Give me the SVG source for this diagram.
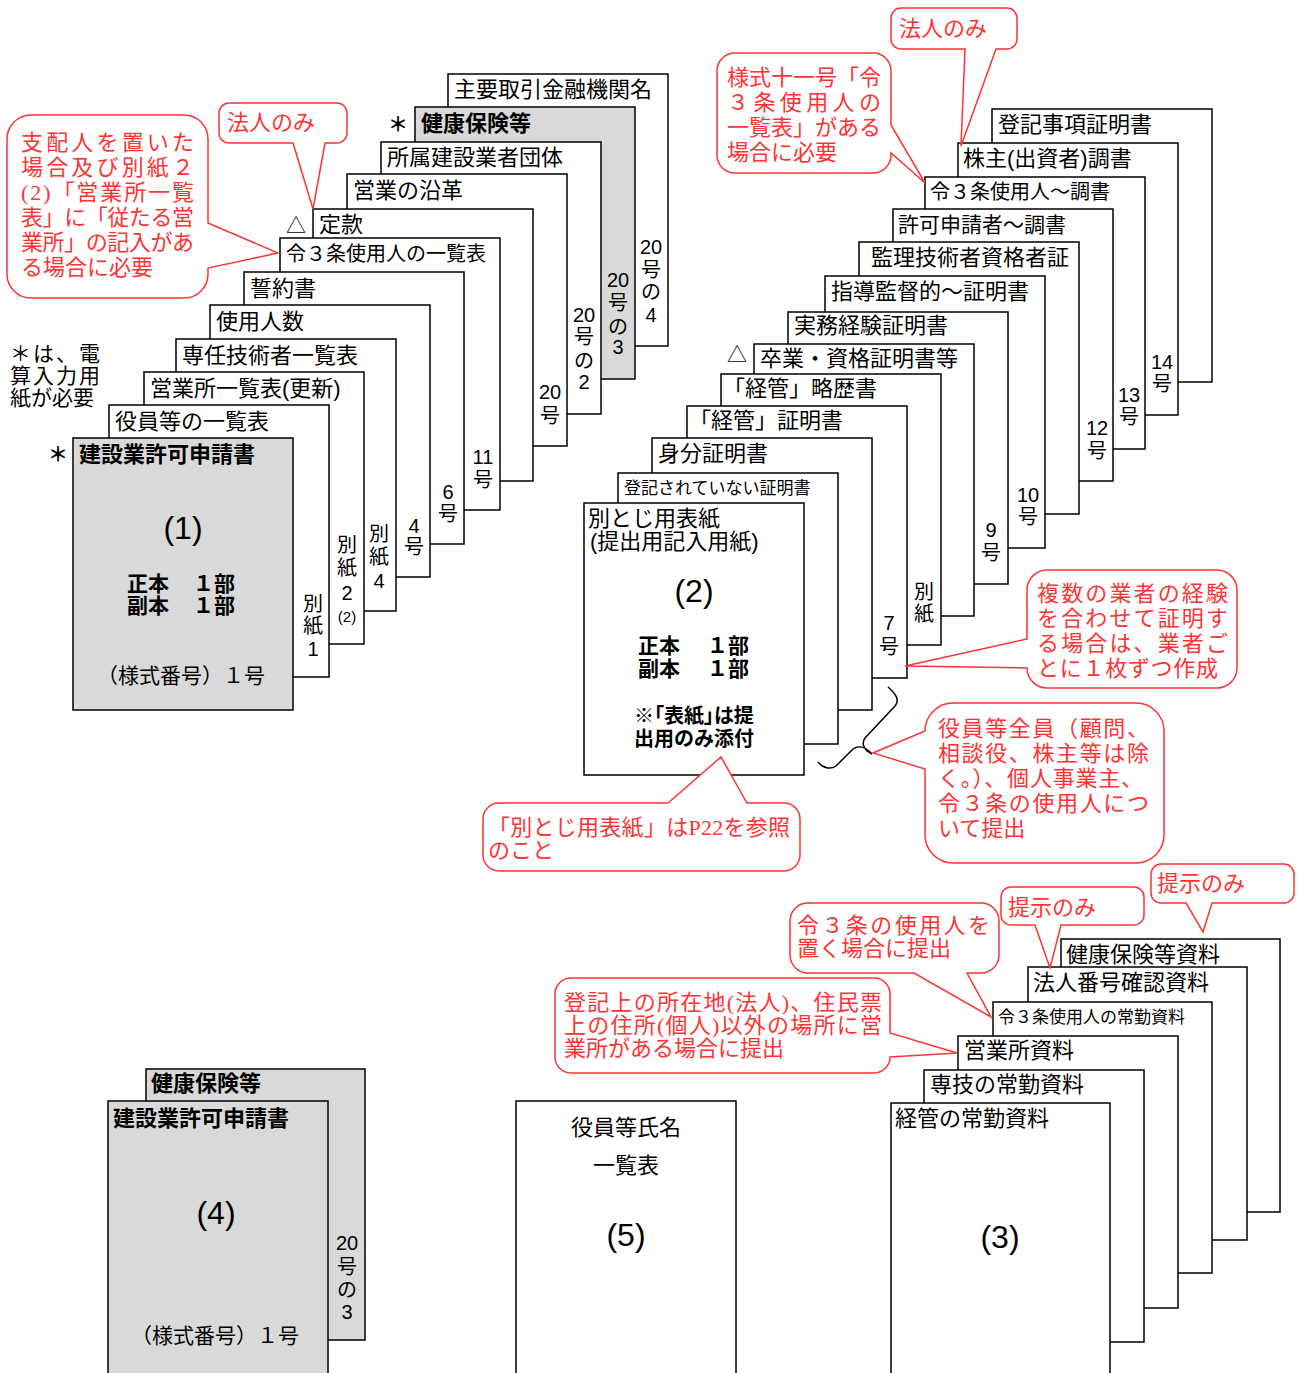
<svg xmlns="http://www.w3.org/2000/svg" width="1301" height="1373" viewBox="0 0 1301 1373">
<style>
.s{fill:#fff;stroke:#000;stroke-width:1.5}
.g{fill:#d9d9d9;stroke:#000;stroke-width:1.5}
text{font-family:"Liberation Sans","Noto Sans CJK JP",sans-serif;fill:#000}
.h{font-size:22px}
.hs{font-size:17px}
.b{font-weight:bold}
.v{font-size:20px;text-anchor:middle}
.c{text-anchor:middle}
.big{font-size:32px;text-anchor:middle}
.p{font-feature-settings:"palt"}
.co{fill:#fff;stroke:#ff3333;stroke-width:1.5}
.r{font-family:"Liberation Serif","Noto Sans CJK JP",serif;font-size:22px;fill:#ff3333}
.br{fill:none;stroke:#000;stroke-width:1.5}
</style>
<rect width="1301" height="1373" fill="#fff"/>

<!-- ===== Stack (1) ===== -->
<g id="s1-12"><rect class="s" x="448" y="74" width="220" height="272"/><text class="h" x="454" y="97">主要取引金融機関名</text>
<text class="v" x="651" y="254">20</text><text class="v" x="651" y="277">号</text><text class="v" x="651" y="299">の</text><text class="v" x="651" y="322">4</text></g>
<g id="s1-11"><rect class="g" x="415" y="107" width="220" height="272"/><text class="h b" x="421" y="131">健康保険等</text>
<text class="v" x="618" y="287">20</text><text class="v" x="618" y="310">号</text><text class="v" x="618" y="334">の</text><text class="v" x="618" y="354">3</text></g>
<g id="s1-10"><rect class="s" x="381" y="142" width="220" height="272"/><text class="h" x="387" y="165">所属建設業者団体</text>
<text class="v" x="584" y="322">20</text><text class="v" x="584" y="344">号</text><text class="v" x="584" y="368">の</text><text class="v" x="584" y="389">2</text></g>
<g id="s1-9"><rect class="s" x="347" y="174" width="220" height="272"/><text class="h" x="353" y="198">営業の沿革</text>
<text class="v" x="550" y="399">20</text><text class="v" x="550" y="423">号</text></g>
<g id="s1-8"><rect class="s" x="313" y="209" width="220" height="272"/><text class="h" x="319" y="232">定款</text></g>
<g id="s1-7"><rect class="s" x="280" y="238" width="220" height="272"/><text class="h" style="font-size:20px" x="286" y="261">令３条使用人の一覧表</text>
<text class="v" x="483" y="464">11</text><text class="v" x="483" y="487">号</text></g>
<g id="s1-6"><rect class="s" x="244" y="272" width="220" height="272"/><text class="h" x="250" y="296">誓約書</text>
<text class="v" x="448" y="499">6</text><text class="v" x="448" y="521">号</text></g>
<g id="s1-5"><rect class="s" x="210" y="305" width="220" height="272"/><text class="h" x="216" y="329">使用人数</text>
<text class="v" x="414" y="533">4</text><text class="v" x="414" y="554">号</text></g>
<g id="s1-4"><rect class="s" x="176" y="339" width="220" height="272"/><text class="h" x="182" y="363">専任技術者一覧表</text>
<text class="v" x="379" y="541">別</text><text class="v" x="379" y="564">紙</text><text class="v" x="379" y="588">4</text></g>
<g id="s1-3"><rect class="s" x="144" y="372" width="220" height="272"/><text class="h" x="150" y="396">営業所一覧表(更新)</text>
<text class="v" x="347" y="552">別</text><text class="v" x="347" y="575">紙</text><text class="v" x="347" y="600">2</text><text class="c" style="font-size:15px" x="347" y="622">(2)</text></g>
<g id="s1-2"><rect class="s" x="109" y="405" width="220" height="272"/><text class="h" x="115" y="429">役員等の一覧表</text>
<text class="v" x="313" y="611">別</text><text class="v" x="313" y="633">紙</text><text class="v" x="313" y="656">1</text></g>
<g id="s1-1"><rect class="g" x="73" y="438" width="220" height="272"/><text class="h b" x="79" y="462">建設業許可申請書</text>
<text class="big" x="183" y="539">(1)</text>
<text class="b" style="font-size:21px" x="127" y="591">正本</text><text class="b" style="font-size:21px" x="193" y="591">１部</text>
<text class="b" style="font-size:21px" x="127" y="613">副本</text><text class="b" style="font-size:21px" x="193" y="613">１部</text>
<text class="c" style="font-size:21px" x="181" y="683">（様式番号）１号</text></g>
<g id="marks1">
<text class="c b" style="font-size:20px" x="58" y="462">＊</text>
<text class="c b" style="font-size:20px" x="398" y="132">＊</text>
<text style="font-size:20px" x="286" y="233">△</text>
<text style="font-size:21px" x="10" y="361" textLength="90">＊は、電</text>
<text style="font-size:21px" x="10" y="383" textLength="90">算入力用</text>
<text style="font-size:21px" x="10" y="405">紙が必要</text>
</g>

<!-- ===== Stack (2) ===== -->
<g id="s2-M"><rect class="s" x="992" y="109" width="220" height="273"/><text class="h" x="998" y="132">登記事項証明書</text></g>
<g id="s2-L"><rect class="s" x="958" y="143" width="220" height="272"/><text class="h" x="963" y="166">株主(出資者)調書</text>
<text class="v" x="1162" y="369">14</text><text class="v" x="1162" y="391">号</text></g>
<g id="s2-K"><rect class="s" x="925" y="177" width="220" height="272"/><text class="h" style="font-size:20px" x="930" y="199">令３条使用人～調書</text>
<text class="v" x="1129" y="402">13</text><text class="v" x="1129" y="424">号</text></g>
<g id="s2-J"><rect class="s" x="893" y="209" width="220" height="272"/><text class="h" style="font-size:21px" x="898" y="232">許可申請者～調書</text>
<text class="v" x="1097" y="435">12</text><text class="v" x="1097" y="458">号</text></g>
<g id="s2-I"><rect class="s" x="859" y="242" width="220" height="272"/><text class="h" x="871" y="265">監理技術者資格者証</text></g>
<g id="s2-H"><rect class="s" x="825" y="276" width="220" height="272"/><text class="h" x="831" y="299">指導監督的～証明書</text>
<text class="v" x="1028" y="502">10</text><text class="v" x="1028" y="524">号</text></g>
<g id="s2-G"><rect class="s" x="788" y="312" width="220" height="272"/><text class="h" x="794" y="333">実務経験証明書</text>
<text class="v" x="991" y="537">9</text><text class="v" x="991" y="560">号</text></g>
<g id="s2-F"><rect class="s" x="754" y="344" width="220" height="272"/><text class="h" x="760" y="366">卒業・資格証明書等</text></g>
<g id="s2-E"><rect class="s" x="721" y="374" width="220" height="271"/><text class="h" x="723" y="396">「経管」略歴書</text>
<text class="v" x="924" y="599">別</text><text class="v" x="924" y="621">紙</text></g>
<g id="s2-D"><rect class="s" x="687" y="406" width="220" height="272"/><text class="h" x="689" y="428">「経管」証明書</text>
<text class="v" x="889" y="630">7</text><text class="v" x="889" y="654">号</text></g>
<g id="s2-C"><rect class="s" x="652" y="438" width="220" height="272"/><text class="h" x="658" y="461">身分証明書</text></g>
<g id="s2-B"><rect class="s" x="618" y="473" width="220" height="271"/><text class="hs" x="624" y="494">登記されていない証明書</text></g>
<g id="s2-A"><rect class="s" x="584" y="503" width="220" height="272"/>
<text class="h" x="588" y="526">別とじ用表紙</text>
<text class="h" x="590" y="549">(提出用記入用紙)</text>
<text class="big" x="694" y="602">(2)</text>
<text class="b" style="font-size:21px" x="638" y="653">正本</text><text class="b" style="font-size:21px" x="707" y="653">１部</text>
<text class="b" style="font-size:21px" x="638" y="676">副本</text><text class="b" style="font-size:21px" x="707" y="676">１部</text>
<text class="b p" style="font-size:20px" x="634" y="723">※「表紙」は提</text>
<text class="b" style="font-size:20px" x="634" y="746">出用のみ添付</text></g>
<g id="marks2"><text style="font-size:20px" x="727" y="362">△</text></g>

<!-- ===== Stack (3) ===== -->
<g id="s3-6"><rect class="s" x="1061" y="939" width="219" height="273"/><text class="h" x="1066" y="962">健康保険等資料</text></g>
<g id="s3-5"><rect class="s" x="1028" y="967" width="219" height="273"/><text class="h" x="1033" y="990">法人番号確認資料</text></g>
<g id="s3-4"><rect class="s" x="993" y="1002" width="219" height="271"/><text class="hs" x="998" y="1023">令３条使用人の常勤資料</text></g>
<g id="s3-3"><rect class="s" x="958" y="1036" width="220" height="272"/><text class="h" x="964" y="1058">営業所資料</text></g>
<g id="s3-2"><rect class="s" x="924" y="1070" width="220" height="272"/><text class="h" x="930" y="1092">専技の常勤資料</text></g>
<g id="s3-1"><rect class="s" x="891" y="1103" width="219" height="280"/><text class="h" x="895" y="1126">経管の常勤資料</text>
<text class="big" x="1000" y="1248">(3)</text></g>

<!-- ===== Stack (4) ===== -->
<g id="s4-2"><rect class="g" x="146" y="1069" width="219" height="271"/><text class="h b" x="151" y="1091">健康保険等</text>
<text class="v" x="347" y="1250">20</text><text class="v" x="347" y="1274">号</text><text class="v" x="347" y="1297">の</text><text class="v" x="347" y="1319">3</text></g>
<g id="s4-1"><rect class="g" x="108" y="1101" width="220" height="280"/><text class="h b" x="113" y="1126">建設業許可申請書</text>
<text class="big" x="216" y="1224">(4)</text>
<text class="c" style="font-size:21px" x="215" y="1343">（様式番号）１号</text></g>

<!-- ===== (5) ===== -->
<g id="s5"><rect class="s" x="516" y="1101" width="220" height="280"/>
<text class="h c" x="626" y="1135">役員等氏名</text>
<text class="h c" x="626" y="1173">一覧表</text>
<text class="big" x="626" y="1246">(5)</text></g>

<!-- ===== connectors / callouts ===== -->
<g id="connectors">
<path class="br" d="M888,687 C896,694 900,700 895,706 L865,738 C861,744 864,750 872,754 C866,747 859,745 853,749 L836,766 C830,770 823,768 818,762"/>
</g>

<g id="co-shihainin">
<path class="co" d="M31,115 H184 A24,24 0 0 1 208,139 V223 L278,253 L208,268 V274 A24,24 0 0 1 184,298 H31 A24,24 0 0 1 7,274 V139 A24,24 0 0 1 31,115 Z"/>
<text class="r" x="21" y="150" textLength="173">支配人を置いた</text>
<text class="r" x="21" y="175" textLength="173">場合及び別紙２</text>
<text class="r" x="21" y="200" textLength="173">(2)「営業所一覧</text>
<text class="r" x="21" y="225" textLength="173">表」に「従たる営</text>
<text class="r" x="21" y="250" textLength="173">業所」の記入があ</text>
<text class="r" x="21" y="275">る場合に必要</text>
</g>
<g id="co-hojin1">
<path class="co" d="M229,103 H337 A10,10 0 0 1 347,113 V133 A10,10 0 0 1 337,143 H325 L313,209 L293,143 H229 A10,10 0 0 1 219,133 V113 A10,10 0 0 1 229,103 Z"/>
<text class="r" x="227" y="130">法人のみ</text>
</g>
<g id="co-hojin2">
<path class="co" d="M901,8 H1007 A10,10 0 0 1 1017,18 V39 A10,10 0 0 1 1007,49 H996 L961,146 L965,49 H901 A10,10 0 0 1 891,39 V18 A10,10 0 0 1 901,8 Z"/>
<text class="r" x="899" y="36">法人のみ</text>
</g>
<g id="co-yoshiki11">
<path class="co" d="M735,53 H873 A18,18 0 0 1 891,71 V125 L925,183 L891,153 V155 A18,18 0 0 1 873,173 H735 A18,18 0 0 1 717,155 V71 A18,18 0 0 1 735,53 Z"/>
<text class="r" x="727" y="85" textLength="154">様式十一号「令</text>
<text class="r" x="727" y="110" textLength="154">３条使用人の</text>
<text class="r" x="727" y="135" textLength="154">一覧表」がある</text>
<text class="r" x="727" y="160">場合に必要</text>
</g>
<g id="co-fukusu">
<path class="co" d="M1047,570 H1217 A20,20 0 0 1 1237,590 V668 A20,20 0 0 1 1217,688 H1047 A20,20 0 0 1 1027,668 L905,666 L1027,639 V590 A20,20 0 0 1 1047,570 Z"/>
<text class="r" x="1037" y="601" textLength="191">複数の業者の経験</text>
<text class="r" x="1037" y="626" textLength="191">を合わせて証明す</text>
<text class="r" x="1037" y="651" textLength="191">る場合は、業者ご</text>
<text class="r" x="1037" y="676" textLength="181">とに１枚ずつ作成</text>
</g>
<g id="co-yakuin">
<path class="co" d="M953,703 H1136 A28,28 0 0 1 1164,731 V835 A28,28 0 0 1 1136,863 H953 A28,28 0 0 1 925,835 V769 L873,753 L925,731 A28,28 0 0 1 953,703 Z"/>
<text class="r" x="938" y="736" textLength="211">役員等全員（顧問、</text>
<text class="r" x="938" y="761" textLength="211">相談役、株主等は除</text>
<text class="r" x="938" y="786" textLength="205">く。）、個人事業主、</text>
<text class="r" x="938" y="811" textLength="211">令３条の使用人につ</text>
<text class="r" x="938" y="836">いて提出</text>
</g>
<g id="co-betsutoji">
<path class="co" d="M499,803 H668 L721,757 L747,803 H784 A16,16 0 0 1 800,819 V855 A16,16 0 0 1 784,871 H499 A16,16 0 0 1 483,855 V819 A16,16 0 0 1 499,803 Z"/>
<text class="r" x="488" y="835" textLength="302">「別とじ用表紙」はP22を参照</text>
<text class="r" x="488" y="858">のこと</text>
</g>
<g id="co-teiji1">
<path class="co" d="M1161,864 H1284 A10,10 0 0 1 1294,874 V893 A10,10 0 0 1 1284,903 H1212 L1203,932 L1186,903 H1161 A10,10 0 0 1 1151,893 V874 A10,10 0 0 1 1161,864 Z"/>
<text class="r" x="1157" y="891">提示のみ</text>
</g>
<g id="co-teiji2">
<path class="co" d="M1011,887 H1134 A10,10 0 0 1 1144,897 V915 A10,10 0 0 1 1134,925 H1061 L1050,968 L1035,925 H1011 A10,10 0 0 1 1001,915 V897 A10,10 0 0 1 1011,887 Z"/>
<text class="r" x="1008" y="915">提示のみ</text>
</g>
<g id="co-rei3">
<path class="co" d="M808,903 H981 A18,18 0 0 1 999,921 V955 A18,18 0 0 1 981,973 H967 L991,1017 L914,973 H808 A18,18 0 0 1 790,955 V921 A18,18 0 0 1 808,903 Z"/>
<text class="r" x="797" y="933" textLength="193">令３条の使用人を</text>
<text class="r" x="797" y="956">置く場合に提出</text>
</g>
<g id="co-toki">
<path class="co" d="M571,978 H874 A16,16 0 0 1 890,994 V1033 L957,1053 L890,1057 A16,16 0 0 1 874,1073 H571 A16,16 0 0 1 555,1057 V994 A16,16 0 0 1 571,978 Z"/>
<text class="r" x="564" y="1010" textLength="318">登記上の所在地(法人)、住民票</text>
<text class="r" x="564" y="1033" textLength="318">上の住所(個人)以外の場所に営</text>
<text class="r" x="564" y="1056">業所がある場合に提出</text>
</g>
</svg>
